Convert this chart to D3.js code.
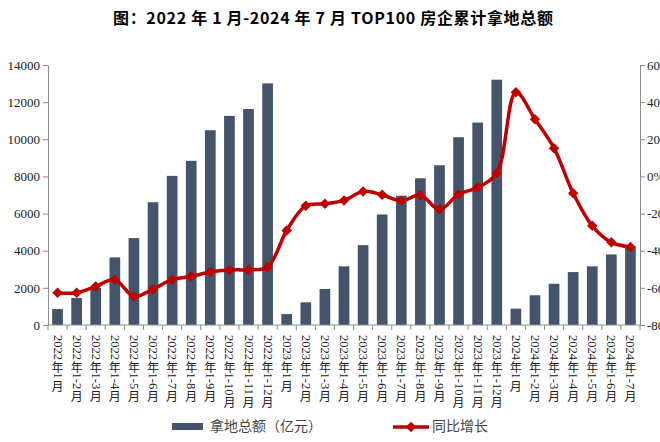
<!DOCTYPE html>
<html><head><meta charset="utf-8">
<script src="https://cdn.jsdelivr.net/npm/d3@7"></script>
<style>
body{margin:0;background:#fff;}
svg{display:block;}
</style></head>
<body>
<svg id="chart" width="660" height="442"></svg>
<script>
const categories = [
"2022年1月","2022年1-2月","2022年1-3月","2022年1-4月","2022年1-5月","2022年1-6月","2022年1-7月","2022年1-8月","2022年1-9月","2022年1-10月","2022年1-11月","2022年1-12月",
"2023年1月","2023年1-2月","2023年1-3月","2023年1-4月","2023年1-5月","2023年1-6月","2023年1-7月","2023年1-8月","2023年1-9月","2023年1-10月","2023年1-11月","2023年1-12月",
"2024年1月","2024年1-2月","2024年1-3月","2024年1-4月","2024年1-5月","2024年1-6月","2024年1-7月"];
const landAmount = [860,1450,2000,3640,4680,6610,8030,8840,10490,11260,11630,13010,
590,1220,1940,3160,4300,5950,6960,7900,8600,10110,10900,13210,
880,1600,2220,2850,3160,3800,4230];
const yoyGrowth = [-62.6,-62.6,-59.2,-55.6,-64.6,-60.7,-55.6,-53.8,-51.5,-50.4,-50.2,-48.8,
-29.1,-15.8,-14.7,-12.9,-8.1,-9.9,-13.1,-10.1,-17.8,-9.6,-6.0,1.7,
45.3,30.8,15.2,-9.0,-26.6,-35.5,-38.0];
const leftTicks = [0,2000,4000,6000,8000,10000,12000,14000];
const rightTicks = [-80,-60,-40,-20,0,20,40,60];
const titleText = "图：2022 年 1 月-2024 年 7 月 TOP100 房企累计拿地总额";
const legendBar = "拿地总额（亿元）";
const legendLine = "同比增长";

const svg = d3.select("#chart");
const pLeft = 48, pRight = 640, pTop = 65, pBottom = 325;
const barColor = "#44546a", lineColor = "#c00000", axisColor = "#8c8c8c";
const serif = "'Liberation Serif','Times New Roman',serif";
const cjk = "'Noto Sans CJK SC','Noto Sans',sans-serif";

const xb = d3.scaleBand().domain(categories).range([pLeft, pRight]);
const yL = d3.scaleLinear().domain([0,14000]).range([pBottom, pTop]);
const yR = d3.scaleLinear().domain([-80,60]).range([pBottom, pTop]);

// title
svg.append("text").attr("x", 113).attr("y", 24)
  .attr("font-family", cjk).attr("font-weight","bold").attr("font-size", 16).attr("fill","#000")
  .attr("textLength", 440).attr("lengthAdjust", "spacing")
  .text(titleText);

// bars
svg.append("g").selectAll("rect").data(categories).join("rect")
  .attr("x", d => xb(d) + (xb.bandwidth()-10.7)/2)
  .attr("width", 10.7)
  .attr("y", (d,i) => yL(landAmount[i]))
  .attr("height", (d,i) => pBottom - yL(landAmount[i]))
  .attr("fill", barColor);

// left axis
const gL = svg.append("g").attr("transform", `translate(${pLeft},0)`)
  .call(d3.axisLeft(yL).tickValues(leftTicks).tickSize(5).tickPadding(3).tickFormat(d3.format("d")));
gL.selectAll("text").attr("font-family", serif).attr("font-size", 13).attr("fill","#222");
gL.selectAll("line,path").attr("stroke", axisColor);

// right axis
const gR = svg.append("g").attr("transform", `translate(${pRight},0)`)
  .call(d3.axisRight(yR).tickValues(rightTicks).tickSize(5).tickPadding(2).tickFormat(d => d + "%"));
gR.selectAll("text").attr("font-family", serif).attr("font-size", 13).attr("fill","#222");
gR.selectAll("line,path").attr("stroke", axisColor);

// x axis
const gX = svg.append("g").attr("transform", `translate(0,${pBottom})`);
gX.append("line").attr("x1", pLeft).attr("x2", pRight).attr("stroke", axisColor);
gX.selectAll("line.tk").data(d3.range(categories.length+1)).join("line").attr("class","tk")
  .attr("x1", i => pLeft + i*xb.step()).attr("x2", i => pLeft + i*xb.step())
  .attr("y1", 0).attr("y2", 5).attr("stroke", axisColor);

// vertical category labels: digits sideways, CJK upright
const fs = 12.5;
categories.forEach(cat => {
  const cx = xb(cat) + xb.bandwidth()/2;
  const g = gX.append("g");
  const parts = cat.match(/(\d+)|([^\d]+)/g);
  let yy = 10;
  parts.forEach(p => {
    if (/^[\d-]+$/.test(p) || /^\d/.test(p)) {
      // handled below
    }
  });
  // split into runs of latin (digits and '-') vs CJK characters
  const runs = cat.match(/[0-9\-]+|[^0-9\-]/g);
  runs.forEach(r => {
    if (/^[0-9\-]+$/.test(r)) {
      const t = g.append("text")
        .attr("transform", `translate(${cx},${yy}) rotate(90)`)
        .attr("dominant-baseline", "central")
        .attr("font-family", serif).attr("font-size", fs).attr("fill", "#222")
        .text(r);
      yy += t.node().getComputedTextLength();
    } else {
      g.append("text")
        .attr("x", cx).attr("y", yy + fs/2)
        .attr("text-anchor", "middle").attr("dominant-baseline", "central")
        .attr("font-family", cjk).attr("font-size", fs - 0.5).attr("fill", "#222")
        .text(r);
      yy += fs;
    }
  });
});

// line
const line = d3.line()
  .x((d,i) => xb(categories[i]) + xb.bandwidth()/2)
  .y(d => yR(d))
  .curve(d3.curveCatmullRom.alpha(0.5));
svg.append("path").datum(yoyGrowth).attr("d", line)
  .attr("fill","none").attr("stroke", lineColor).attr("stroke-width", 3.5).attr("stroke-linejoin","round");
svg.append("g").selectAll("path").data(yoyGrowth).join("path")
  .attr("transform", (d,i) => `translate(${xb(categories[i]) + xb.bandwidth()/2},${yR(d)})`)
  .attr("d", d3.symbol().type(d3.symbolDiamond2).size(70)())
  .attr("fill", lineColor);

// legend
const lg = svg.append("g");
lg.append("rect").attr("x", 172).attr("y", 423).attr("width", 31).attr("height", 7).attr("fill", barColor);
lg.append("text").attr("x", 210).attr("y", 431).attr("font-family", cjk).attr("font-size", 14).attr("fill","#444").text(legendBar);
lg.append("line").attr("x1", 393).attr("x2", 429).attr("y1", 427).attr("y2", 427).attr("stroke", lineColor).attr("stroke-width", 3.5);
lg.append("path").attr("transform","translate(411,427)").attr("d", d3.symbol().type(d3.symbolDiamond2).size(70)()).attr("fill", lineColor);
lg.append("text").attr("x", 432).attr("y", 431).attr("font-family", cjk).attr("font-size", 14).attr("fill","#444").text(legendLine);
</script>
</body></html>
